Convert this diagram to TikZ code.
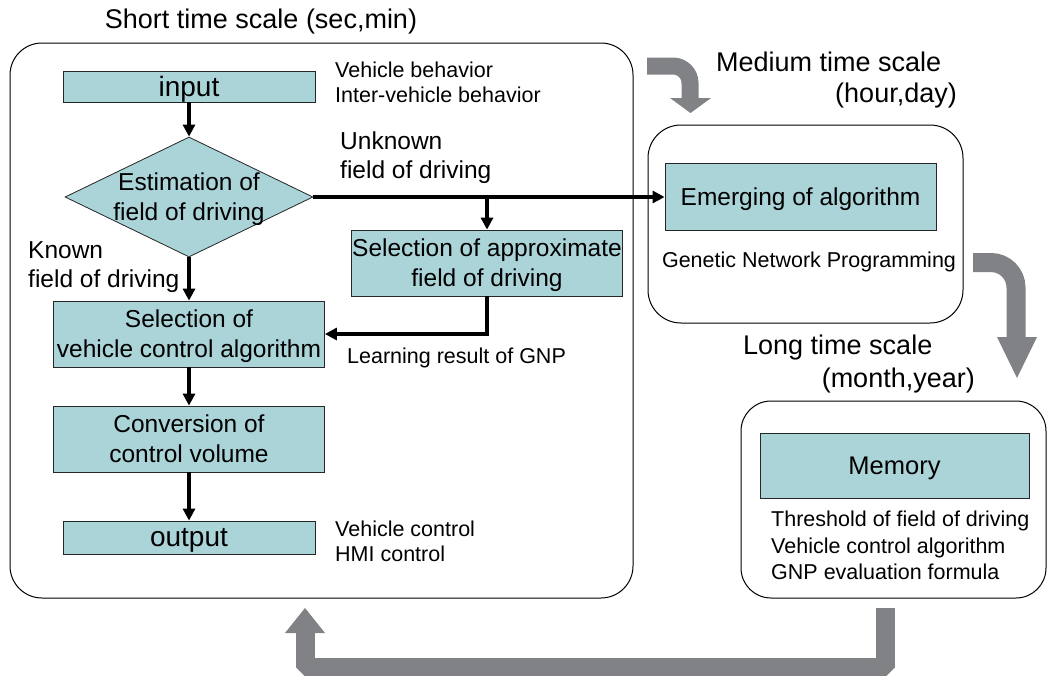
\documentclass[tikz,border=0pt]{standalone}
\usepackage{fontspec}
\setmainfont{Liberation Sans}
\usetikzlibrary{shapes.geometric,arrows.meta}

\definecolor{boxteal}{RGB}{170,212,216}
\definecolor{bandgray}{RGB}{128,130,133}

\tikzset{
  stepbox/.style={draw=black!85, line width=0.8pt, fill=boxteal, inner sep=0pt,
    align=center, text depth=-1.5pt, font=\fontsize{24.5}{30}\selectfont},
  iobox/.style={stepbox, font=\fontsize{28}{32}\selectfont},
  decision/.style={diamond, draw=black!85, line width=0.8pt, fill=boxteal, inner sep=0pt},
  scalebox/.style={draw=black, line width=1pt},
  flow/.style={line width=3.2pt, -{Triangle[length=12pt,width=12pt]}},
  band/.style={draw=bandgray, line width=19pt},
  bandhead/.style={fill=bandgray},
  titletext/.style={font=\fontsize{27}{33}\selectfont, inner sep=0pt},
  midtext/.style={font=\fontsize{24.5}{29}\selectfont, align=left, inner sep=0pt},
  smalltext/.style={font=\fontsize{21.5}{25}\selectfont, align=left, inner sep=0pt}
}

\begin{document}
\begin{tikzpicture}[x=1pt,y=-1pt]
\useasboundingbox (0,0) rectangle (1047,675);

%Time scale frames
\draw[scalebox, rounded corners=32] (10,43) rectangle (633,598);
\draw[scalebox, rounded corners=33] (648,125) rectangle (963,323);
\draw[scalebox, rounded corners=30] (741,401) rectangle (1046,598);

%Titles
\node[titletext] (shorttitle) at (261,22) {Short time scale (sec,min)};
\node[titletext, anchor=west] (midtitle) at (716,62) {Medium time scale};
\node[titletext, anchor=east] (midunit) at (957,96) {(hour,day)};
\node[titletext, anchor=west] (longtitle) at (743,348) {Long time scale};
\node[titletext, anchor=east] (longunit) at (975,381) {(month,year)};

%Short time scale flow
\node[iobox, minimum width=252, minimum height=31] (input) at (189,86.5) {input};
\node[decision, minimum width=248, minimum height=120] (est) at (189,197) {};
\node[stepbox, draw=none, fill=none] (esttext) at (est.center) {Estimation of\\field of driving};
\node[stepbox, minimum width=271, minimum height=66] (approx) at (487,263) {Selection of approximate\\field of driving};
\node[stepbox, minimum width=271, minimum height=66] (select) at (189,334) {Selection of\\vehicle control algorithm};
\node[stepbox, minimum width=271, minimum height=66] (convert) at (189,439) {Conversion of\\control volume};
\node[iobox, minimum width=252, minimum height=33] (output) at (189,537.5) {output};

%Medium and long time scale boxes
\node[stepbox, minimum width=271, minimum height=67] (emerge) at (800.5,197) {Emerging of algorithm};
\node[stepbox, minimum width=269, minimum height=65, font=\fontsize{25.5}{30}\selectfont] (memory) at (894.5,465.5) {Memory};

%Notes
\node[smalltext, anchor=west] (innote) at (335,82.5) {Vehicle behavior\\Inter-vehicle behavior};
\node[midtext, anchor=west] (unknown) at (340,157.5) {Unknown\\field of driving};
\node[midtext, anchor=west] (known) at (28,267.5) {Known\\field of driving};
\node[smalltext, anchor=west] (learn) at (347,358) {Learning result of GNP};
\node[smalltext, anchor=west] (outnote) at (335,541) {Vehicle control\\HMI control};
\node[smalltext] (gnp) at (809,262) {Genetic Network Programming};
\node[smalltext, anchor=west, font=\fontsize{21.5}{26.5}\selectfont] (memnote) at (771,545.5) {Threshold of field of driving\\Vehicle control algorithm\\GNP evaluation formula};

%Connectors
\draw[flow] (input) -- (est);
\draw[flow] (est) -- (select);
\draw[flow] (select) -- (convert);
\draw[flow] (convert) -- (output);
\draw[flow] (est.east) -- (emerge.west);
\coordinate (branch) at (approx.north |- est.east);
\draw[flow] (branch) -- (approx.north);
\draw[flow] (approx.south) |- (select.east);

%Gray time scale arrows
\draw[band, line width=17pt, rounded corners=17] (647,66) -- (690,66) -- (690,99);
\fill[bandhead] (670,98) -- (711,98) -- (690.5,113) -- cycle;

\draw[band, rounded corners=25] (973,262.5) -- (1016,262.5) -- (1016,338);
\fill[bandhead] (997,337) -- (1037,337) -- (1017,378) -- cycle;

\draw[band, line join=bevel] (885,608) -- (885,667) -- (305,667) -- (305,633);
\fill[bandhead] (285,633) -- (325,633) -- (305,608) -- cycle;

\end{tikzpicture}
\end{document}
